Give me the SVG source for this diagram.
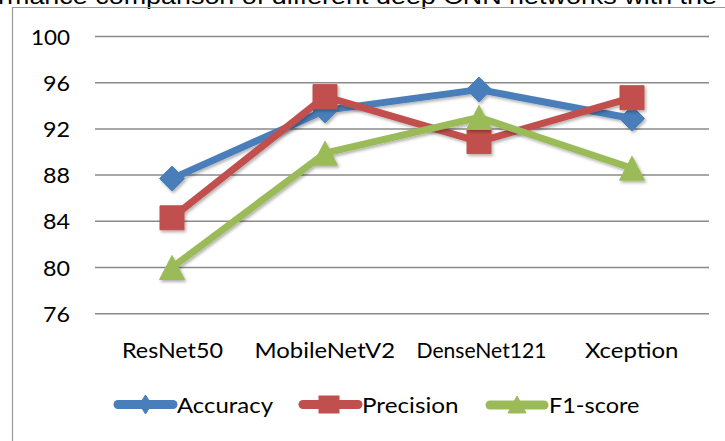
<svg xmlns="http://www.w3.org/2000/svg" width="725" height="441" viewBox="0 0 725 441">
<defs>
<style>
.lbl{font-family:Lato,"Liberation Sans",Arial,sans-serif;font-size:20.5px;fill:#000}
.title{font-family:"Liberation Sans",Arial,sans-serif;font-size:22px;fill:#000}
.grid{stroke:#8a8a8a;stroke-width:1.5;fill:none}
.ln{fill:none;stroke-width:7;stroke-linejoin:round}
.acc{stroke:#4a7ebb;fill:#4a7ebb}
.pre{stroke:#c0504d;fill:#c0504d}
.f1{stroke:#9bbb59;fill:#9bbb59}
.lg{stroke-width:9;stroke-linecap:round;fill:none}
</style>
<filter id="sh" x="-20%" y="-20%" width="140%" height="140%">
<feDropShadow dx="1.5" dy="2" stdDeviation="1.5" flood-color="#000" flood-opacity="0.3"/>
</filter>
<path id="dia" d="M0,-12.5 L12.5,0 L0,12.5 L-12.5,0 Z"/>
<path id="sq" d="M-12,-12 H12 V12 H-12 Z"/>
<path id="tri" d="M0,-12 L12.5,12 L-12.5,12 Z"/>
</defs>
<rect width="725" height="441" fill="#fff"/>
<text class="title" x="-2" y="3.5" textLength="719" lengthAdjust="spacingAndGlyphs">rmance comparison of different deep CNN networks with the</text>
<path d="M12.5,441 V7.5 H725" fill="none" stroke="#9a9a9a" stroke-width="1.2"/>
<g id="gridlines">
<line class="grid" x1="95" y1="36.5" x2="709" y2="36.5"/>
<line class="grid" x1="95" y1="82.7" x2="709" y2="82.7"/>
<line class="grid" x1="95" y1="128.9" x2="709" y2="128.9"/>
<line class="grid" x1="95" y1="175.1" x2="709" y2="175.1"/>
<line class="grid" x1="95" y1="221.3" x2="709" y2="221.3"/>
<line class="grid" x1="95" y1="267.5" x2="709" y2="267.5"/>
<line class="grid" x1="95" y1="313.7" x2="709" y2="313.7"/>
</g>
<g id="y-axis" class="lbl" text-anchor="end">
<text x="70" y="44.5" textLength="39" lengthAdjust="spacingAndGlyphs">100</text>
<text x="70" y="90.7" textLength="27" lengthAdjust="spacingAndGlyphs">96</text>
<text x="70" y="136.9" textLength="27" lengthAdjust="spacingAndGlyphs">92</text>
<text x="70" y="183.1" textLength="27" lengthAdjust="spacingAndGlyphs">88</text>
<text x="70" y="229.3" textLength="27" lengthAdjust="spacingAndGlyphs">84</text>
<text x="70" y="275.5" textLength="27" lengthAdjust="spacingAndGlyphs">80</text>
<text x="70" y="321.7" textLength="27" lengthAdjust="spacingAndGlyphs">76</text>
</g>
<g id="x-axis" class="lbl">
<text x="122" y="357.5" textLength="101" lengthAdjust="spacingAndGlyphs">ResNet50</text>
<text x="254.5" y="357.5" textLength="140.5" lengthAdjust="spacingAndGlyphs">MobileNetV2</text>
<text x="416.5" y="357.5" textLength="130" lengthAdjust="spacingAndGlyphs">DenseNet121</text>
<text x="585" y="357.5" textLength="93.5" lengthAdjust="spacingAndGlyphs">Xception</text>
</g>
<g id="connectors">
<g id="series-accuracy" filter="url(#sh)">
<polyline class="ln acc" points="172,178.6 325,110.4 479,89.6 632,118.5" style="fill:none"/>
<use href="#dia" class="acc" x="172" y="178.6"/>
<use href="#dia" class="acc" x="325" y="110.4"/>
<use href="#dia" class="acc" x="479" y="89.6"/>
<use href="#dia" class="acc" x="632" y="118.5"/>
</g>
<g id="series-precision" filter="url(#sh)">
<polyline class="ln pre" points="172,217.8 325,96.6 479,141.6 632,97.7" style="fill:none"/>
<use href="#sq" class="pre" x="172" y="217.8"/>
<use href="#sq" class="pre" x="325" y="96.6"/>
<use href="#sq" class="pre" x="479" y="141.6"/>
<use href="#sq" class="pre" x="632" y="97.7"/>
</g>
<g id="series-f1" filter="url(#sh)">
<polyline class="ln f1" points="172,267.5 325,153.2 479,117.4 632,168.2" style="fill:none"/>
<use href="#tri" class="f1" x="172" y="267.5"/>
<use href="#tri" class="f1" x="325" y="153.2"/>
<use href="#tri" class="f1" x="479" y="117.4"/>
<use href="#tri" class="f1" x="632" y="168.2"/>
</g>
</g>
<g id="legend">
<g id="legend-accuracy">
<line class="lg acc" x1="118" y1="404.5" x2="173" y2="404.5"/>
<path class="acc" d="M145.5,395 L151.5,404.5 L145.5,414 L139.5,404.5 Z"/>
<text class="lbl" x="177" y="413" textLength="96" lengthAdjust="spacingAndGlyphs">Accuracy</text>
</g>
<g id="legend-precision">
<line class="lg pre" x1="303" y1="404.5" x2="358" y2="404.5"/>
<rect class="pre" x="319" y="396" width="20" height="17"/>
<text class="lbl" x="362" y="413" textLength="96.5" lengthAdjust="spacingAndGlyphs">Precision</text>
</g>
<g id="legend-f1">
<line class="lg f1" x1="490" y1="405" x2="544" y2="405"/>
<path class="f1" d="M517,396 L526,413 L508,413 Z"/>
<text class="lbl" x="549" y="413" textLength="90.5" lengthAdjust="spacingAndGlyphs">F1-score</text>
</g>
</g>
</svg>
